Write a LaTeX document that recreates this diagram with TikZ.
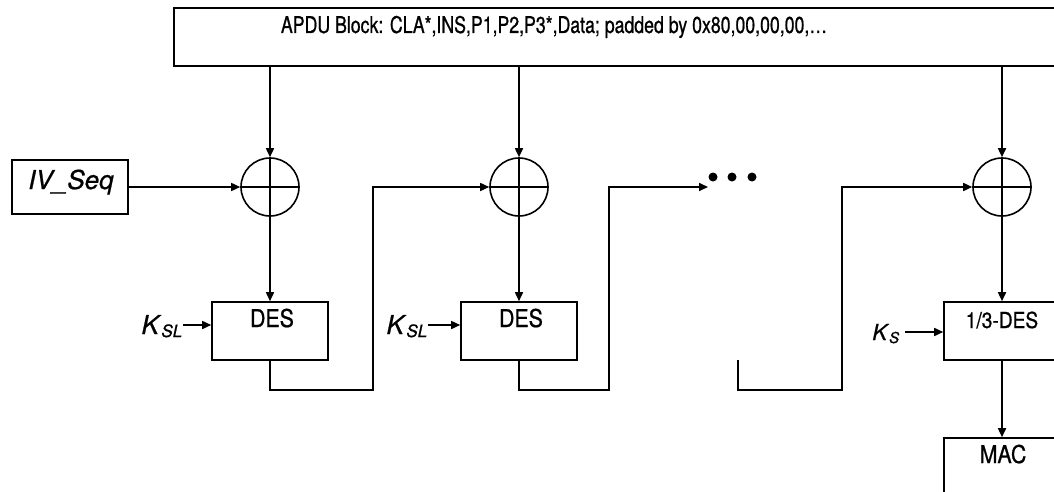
\documentclass[tikz,border=0pt]{standalone}
\usepackage{fontspec}
\setmainfont{TeX Gyre Heros}[FakeBold=0.8]
\newfontfamily\condA{TeX Gyre Heros}[FakeStretch=0.87,FakeBold=0.8]
\newfontfamily\condB{TeX Gyre Heros}[FakeStretch=0.77,FakeBold=0.8]
\usetikzlibrary{arrows.meta,calc}
\newcommand{\keysub}[3]{\textit{#1}\raisebox{-3pt}{\fontsize{#3}{#3}\selectfont\itshape #2}}
\begin{document}
\begin{tikzpicture}[x=1pt,y=-1pt, line width=1.6pt,
  font=\fontsize{26}{30}\selectfont,
  blk/.style={draw, rectangle, inner sep=0pt},
  xorc/.style={draw, circle, minimum size=58pt, inner sep=0pt},
  arr/.style={-{Triangle[length=9pt,width=8pt]}},
  lbl/.style={inner sep=0pt, font=\fontsize{24.5}{28}\selectfont\condA},
  keylbl/.style={inner sep=0pt},
  dotn/.style={fill, circle, minimum size=9pt, inner sep=0pt}]
\useasboundingbox (0,0) rectangle (1054,492);
\clip (0,0) rectangle (1054,492);

% top block
\node[blk, line width=2pt, minimum width=892pt, minimum height=58pt] (apdu) at (620,37) {};
\node[inner sep=0pt, anchor=base, font=\fontsize{23}{27}\selectfont\condB] (apdut) at (554,33) {APDU Block: CLA*,INS,P1,P2,P3*,Data; padded by 0x80,00,00,00,…};

% XOR gates
\foreach \n/\x in {x1/270, x2/519, x3/1002} {
  \node[xorc] (\n) at (\x,187) {};
  \draw (\n.north) -- (\n.south) (\n.west) -- (\n.east);
}

% IV
\node[blk, minimum width=116pt, minimum height=54pt] (iv) at (70,187) {};
\node[keylbl, anchor=base] (ivt) at (71,189) {\textit{IV\_Seq}};

% cipher boxes
\node[blk, minimum width=116pt, minimum height=58pt] (d1) at (270,331) {};
\node[lbl, anchor=base] (d1t) at (272,327) {DES};
\node[blk, minimum width=116pt, minimum height=58pt] (d2) at (519,331) {};
\node[lbl, anchor=base] (d2t) at (521,327) {DES};
\node[blk, minimum width=116pt, minimum height=58pt] (d3) at (1002,331) {};
\node[lbl, anchor=base, font=\fontsize{22}{26}\selectfont\condA] (d3t) at (1002,328) {1/3-DES};
\node[blk, minimum width=116pt, minimum height=60pt] (mac) at (1002,468) {};
\node[lbl, anchor=base] (mact) at (1003,463) {MAC};

% keys
\node[keylbl, anchor=base east] (k1) at (183,334) {\keysub{K}{SL}{17}};
\node[keylbl, anchor=base east] (k2) at (428,334) {\keysub{K}{SL}{17}};
\node[keylbl, anchor=base east, font=\fontsize{22}{26}\selectfont] (k3) at (900,340) {\keysub{K}{S}{15}};
\coordinate (k1e) at (183,325);
\coordinate (k2e) at (428,325);
\coordinate (k3e) at (905,332);
\draw[arr] (k1e) -- (k1e -| d1.west);
\draw[arr] (k2e) -- (k2e -| d2.west);
\draw[arr] (k3e) -- (k3e -| d3.west);

% inputs from the APDU block
\draw[arr] (apdu.south -| x1.north) -- (x1);
\draw[arr] (apdu.south -| x2.north) -- (x2);
\draw[arr] (apdu.south -| x3.north) -- (x3);

\draw[arr] (iv) -- (x1);
\draw[arr] (x1) -- (d1);
\draw[arr] (x2) -- (d2);
\draw[arr] (x3) -- (d3);
\draw[arr] (d3) -- (mac);

% chaining
\coordinate (b1) at (373,390);
\draw[arr] (d1.south) |- (b1) |- (x2);
\coordinate (b2) at (609,390);
\coordinate (dotin) at (708,187);
\draw[arr] (d2.south) |- (b2) |- (dotin);
\coordinate (c3) at (738,360);
\coordinate (b3) at (842,390);
\draw[arr] (c3) |- (b3) |- (x3);

% ellipsis dots
\node[dotn] (p1) at (713,177) {};
\node[dotn] (p2) at (732,177) {};
\node[dotn] (p3) at (752,177) {};
\end{tikzpicture}
\end{document}
